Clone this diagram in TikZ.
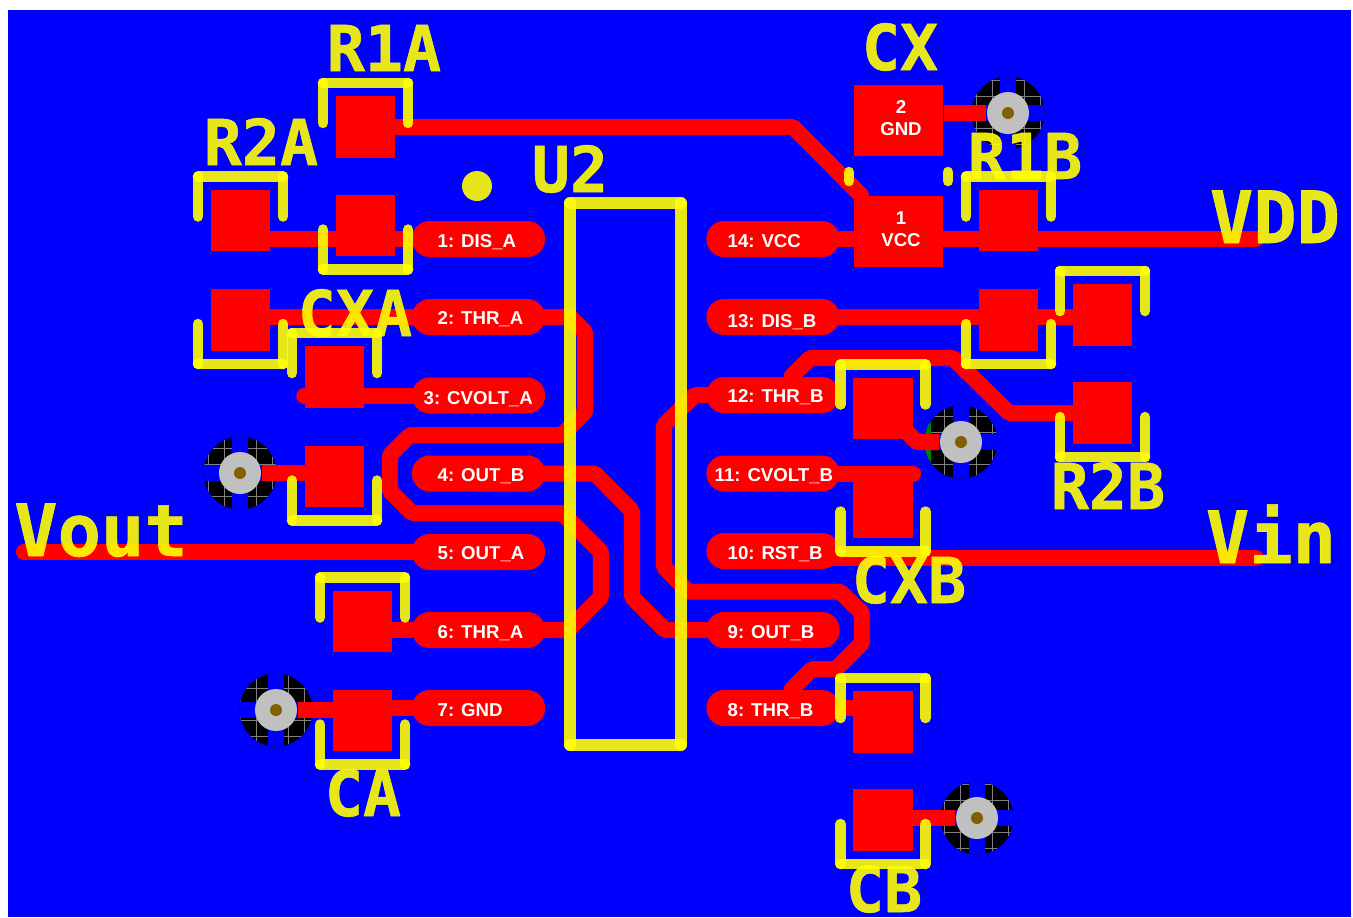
\documentclass[tikz,border=0pt]{standalone}
\usepackage{fontspec}
\setmainfont{Liberation Sans}
\newfontfamily\silkfont[FakeBold=.8]{DejaVu Sans Mono Bold}
\usetikzlibrary{positioning,calc}

\definecolor{silkyellow}{RGB}{255,255,0}
\definecolor{viasilver}{RGB}{192,192,192}
\definecolor{viahole}{RGB}{128,96,0}
\definecolor{viagreen}{RGB}{0,128,0}

\tikzset{
pad/.style={fill=red, rectangle, inner sep=0pt, minimum width=.59cm, minimum height=.61cm},
bigpad/.style={fill=red, rectangle, inner sep=0pt, minimum width=.89cm, minimum height=.71cm},
pin/.style={fill=red, rectangle, rounded corners=5pt, inner sep=0pt, minimum width=1.33cm, minimum height=.36cm},
pintext/.style={anchor=base west, inner sep=0pt, text=white, font=\fontsize{5.3}{6.2}\selectfont\bfseries},
padtext/.style={inner sep=0pt, align=center, text=white, font=\fontsize{5.3}{6.2}\selectfont\bfseries},
trace/.style={draw=red, line width=.16cm, line cap=round, line join=bevel},
viatrace/.style={trace, line cap=butt},
silk/.style={draw=silkyellow, line width=.105cm, line cap=round, opacity=.9},
chipsilk/.style={silk, line width=.115cm},
silktext/.style={anchor=base, inner sep=0pt, text=silkyellow, text opacity=.9, font=\fontsize{18}{18}\selectfont\silkfont},
silklarge/.style={anchor=base, inner sep=0pt, text=silkyellow, text opacity=.9, font=\fontsize{20.5}{20.5}\selectfont\silkfont},
viapad/.style={fill=viasilver, circle, inner sep=0pt, minimum size=.42cm}
}

% black relief round a via, with the four blue gaps
\newcommand{\thermal}[2]{
\begin{scope}
\clip (#1,#2) circle (36.5);
\fill[black] (#1-40,#2-40) rectangle (#1+40,#2+40);
\draw[gray, line width=.25pt, step=.16cm] (#1-40,#2-40) grid (#1+40,#2+40);
\fill[blue] (#1-8,#2-40) rectangle (#1+8,#2+40);
\fill[blue] (#1-40,#2-8) rectangle (#1+40,#2+8);
\end{scope}
}
\newcommand{\silkup}[1]{
\draw[silk] ([shift={(-42.5,-4)}]#1.center) -- ([shift={(-42.5,-44)}]#1.center);
\draw[silk] ([shift={(-42.5,-44)}]#1.center) -- ([shift={(42.5,-44)}]#1.center);
\draw[silk] ([shift={(42.5,-44)}]#1.center) -- ([shift={(42.5,-4)}]#1.center);
}
\newcommand{\silkdown}[1]{
\draw[silk] ([shift={(-42.5,4)}]#1.center) -- ([shift={(-42.5,44)}]#1.center);
\draw[silk] ([shift={(-42.5,44)}]#1.center) -- ([shift={(42.5,44)}]#1.center);
\draw[silk] ([shift={(42.5,44)}]#1.center) -- ([shift={(42.5,4)}]#1.center);
}

\begin{document}
\begin{tikzpicture}
[x=.01cm, y=-.01cm]

\useasboundingbox (0,0) rectangle (1353,917);
\fill[blue] (8,10) rectangle (1351,917);

\thermal{240}{473}
\thermal{276}{710}
\thermal{1008}{113}
\thermal{961}{442}
\thermal{977}{818}
\begin{scope}
\clip (920,420) rectangle (931,465);
\fill[viagreen] (961,442) circle (36.5);
\end{scope}

\node (vxa) [viapad] at(240,473) {};
\node (vca) [viapad] at(276,710) {};
\node (vcx) [viapad] at(1008,113) {};
\node (vxb) [viapad] at(961,442) {};
\node (vcb) [viapad] at(977,818) {};

\node (r1atop) [pad] at(365.5,127) {};
\node (r1abot) [pad] at(365.5,225.5) {};
\node (r2atop) [pad] at(240.5,220.5) {};
\node (r2abot) [pad] at(240.5,320) {};
\node (cxatop) [pad] at(334.5,377) {};
\node (cxabot) [pad] at(334.5,476.5) {};
\node (catop) [pad] at(362.5,621.5) {};
\node (cabot) [pad] at(362.5,720.5) {};
\node (cxtop) [bigpad] at(898.5,120.5) {};
\node (cxbot) [bigpad] at(898.5,231.5) {};
\node (r1btop) [pad] at(1008.5,220.5) {};
\node (r1bbot) [pad] at(1008.5,320) {};
\node (r2btop) [pad] at(1102.5,315) {};
\node (r2bbot) [pad] at(1102.5,413) {};
\node (cxbtop) [pad] at(883,408.5) {};
\node (cxbbot) [pad] at(883,507.5) {};
\node (cbtop) [pad] at(883,722) {};
\node (cbbot) [pad] at(883,820) {};

\node (pin1) [pin] at(478.5,239) {};
\node (pin2) [pin] at(478.5,317) {};
\node (pin3) [pin] at(478.5,395.5) {};
\node (pin4) [pin] at(478.5,473.5) {};
\node (pin5) [pin] at(478.5,552) {};
\node (pin6) [pin] at(478.5,630) {};
\node (pin7) [pin] at(478.5,708) {};
\node (pin8) [pin] at(773,708) {};
\node (pin9) [pin] at(773,630) {};
\node (pin10) [pin] at(773,551) {};
\node (pin11) [pin] at(773,473.5) {};
\node (pin12) [pin] at(773,395) {};
\node (pin13) [pin] at(773,317) {};
\node (pin14) [pin] at(773,239) {};

\coordinate (voutend) at(24,552);
\coordinate (vddend) at(1256,239);
\coordinate (vinend) at(1256,558);

\draw[trace] (r1atop) -- (793,127) -- (cxbot.136);
\draw[trace] (pin1.west) -- (pin1.west -| r2atop);
\draw[trace] (pin2.west) -- (pin2.west -| r2abot);
\draw[trace] (pin2.east) -- (570,317) -- (585,332) -- (585,412) -- (562,435) -- (410,435) -- (390,455) -- (390,491) -- (412,513) -- (562,513) -- (601,552) -- (601,597) -- (568,630) -- (pin6.east);
\draw[trace] (pin3.west) -- (pin3.west -| cxatop.west);
\draw[viatrace] (vxa.east) -- (vxa.east -| cxabot);
\draw[trace] (pin4.east) -- (595,473.5) -- (632,511) -- (632,597) -- (665,630) -- (pin9.west);
\draw[trace] (pin5.west) -- (voutend);
\draw[trace] (pin6.west) -- (pin6.west -| catop);
\draw[trace] (pin7.west) -- (pin7.west -| cabot);
\draw[viatrace] (vca.east) -- (vca.east -| cabot);
\draw[trace] (pin14.east) -- (pin14.east -| cxbot.west);
\draw[trace] (pin14.east -| cxbot.east) -- (vddend);
\draw[viatrace] (cxtop.east |- vcx) -- (vcx.west);
\draw[trace] (pin13.east) -- (pin13.east -| r2btop);
\draw[trace] (pin12.west) -- (695,395) -- (664,425) -- (664,567) -- (688,591.5) -- (840,591.5) -- (862,613) -- (862,643) -- (836,669) -- (812,669) -- (pin8.45);
\draw[trace] (pin12.45) -- (810,358) -- (953,358) -- (1009,413) -- (r2bbot);
\draw[viatrace] (vxb.west) -- (917,442) -- (cxbtop.center);
\draw[trace] (pin11.east) -- (pin11.east -| cxbbot.east);
\draw[trace] ([xshift=-4pt]pin10.east |- vinend) -- (vinend);
\draw[trace] (pin8.east) -- (pin8.east -| cbtop);
\draw[viatrace] (vcb.west) -- (vcb.west -| cbbot);

\fill[viahole] (vxa) circle (6);
\fill[viahole] (vca) circle (6);
\fill[viahole] (vcx) circle (6);
\fill[viahole] (vxb) circle (6);
\fill[viahole] (vcb) circle (6);

\node (txt1) [pintext] at(437,247) {1: DIS\_A};
\node (txt2) [pintext] at(437,324) {2: THR\_A};
\node (txt3) [pintext] at(423,404) {3: CVOLT\_A};
\node (txt4) [pintext] at(437,481) {4: OUT\_B};
\node (txt5) [pintext] at(437,559) {5: OUT\_A};
\node (txt6) [pintext] at(437,638) {6: THR\_A};
\node (txt7) [pintext] at(437,716) {7: GND};
\node (txt8) [pintext] at(727,716) {8: THR\_B};
\node (txt9) [pintext] at(727,638) {9: OUT\_B};
\node (txt10) [pintext] at(727,559) {10: RST\_B};
\node (txt11) [pintext] at(714,481) {11: CVOLT\_B};
\node (txt12) [pintext] at(727,402) {12: THR\_B};
\node (txt13) [pintext] at(727,327) {13: DIS\_B};
\node (txt14) [pintext] at(727,247) {14: VCC};
\node (txtcxtop) [padtext] at(901,118) {2\\GND};
\node (txtcxbot) [padtext] at(901,229) {1\\VCC};

% chip outline
\draw[chipsilk] (570,203) -- (681,203);
\draw[chipsilk] (681,203) -- (681,745);
\draw[chipsilk] (681,745) -- (570,745);
\draw[chipsilk] (570,745) -- (570,203);
\fill[silkyellow, opacity=.9] (477,186) circle (15);

\silkup{r1atop}
\silkdown{r1abot}
\silkup{r2atop}
\silkdown{r2abot}
\silkup{cxatop}
\silkdown{cxabot}
\silkup{catop}
\silkdown{cabot}
\silkup{r1btop}
\silkdown{r1bbot}
\silkup{r2btop}
\silkdown{r2bbot}
\silkup{cxbtop}
\silkdown{cxbbot}
\silkup{cbtop}
\silkdown{cbbot}
\draw[silk] (849,172) -- (849,181);
\draw[silk] (948,172) -- (948,181);

\node (labr1a) [silktext] at(384,71) {R1A};
\node (labr2a) [silktext] at(261,165) {R2A};
\node (labu2) [silktext] at(570,192) {U2};
\node (labcx) [silktext] at(900,70) {CX};
\node (labr1b) [silktext] at(1025,179) {R1B};
\node (labr2b) [silktext] at(1108,509) {R2B};
\node (labcxa) [silktext] at(355,336) {CXA};
\node (labcxb) [silktext] at(909,603) {CXB};
\node (labca) [silktext] at(363,816) {CA};
\node (labcb) [silktext] at(884,912) {CB};
\node (labvdd) [silklarge] at(1275,243) {VDD};
\node (labvin) [silklarge] at(1271,563) {Vin};
\node (labvout) [silklarge] at(101,556) {Vout};
\end{tikzpicture}
\end{document}
